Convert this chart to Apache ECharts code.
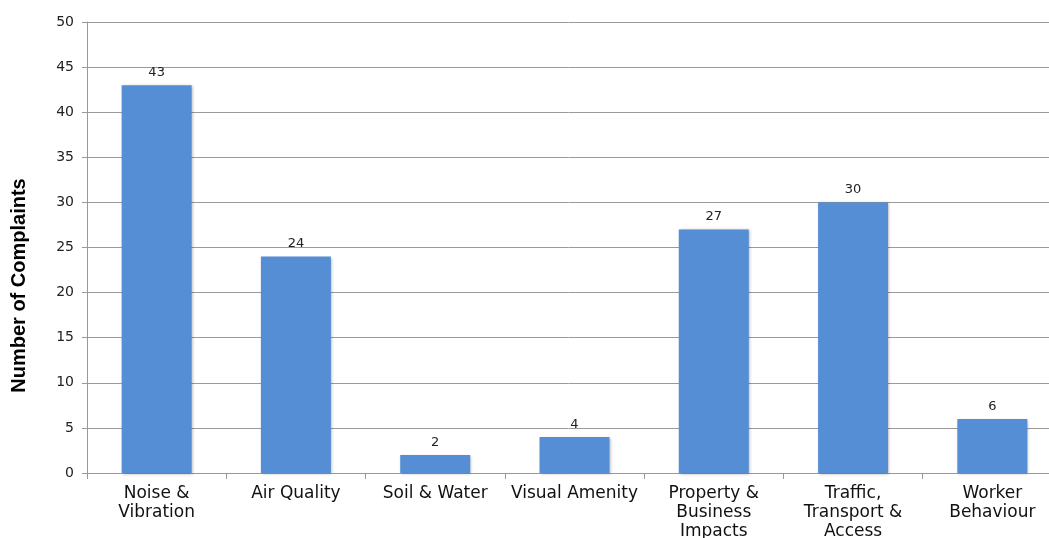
<!DOCTYPE html>
<html>
<head>
<meta charset="utf-8">
<script src="https://cdn.jsdelivr.net/npm/echarts@6/dist/echarts.min.js"></script>
<style>
  html, body { margin: 0; padding: 0; background: #fff; }
  #chart { width: 1049px; height: 538px; }
</style>
</head>
<body>
<div id="chart"></div>
<script>
// categories and counts
var categories = ['Noise &\nVibration', 'Air Quality', 'Soil & Water', 'Visual Amenity',
                  'Property &\nBusiness\nImpacts', 'Traffic,\nTransport &\nAccess', 'Worker\nBehaviour'];
var complaints = [43, 24, 2, 4, 27, 30, 6];

var chart = echarts.init(document.getElementById('chart'));
chart.setOption({
  animation: false,
  backgroundColor: '#ffffff',
  grid: { left: 87, top: 22, bottom: 65, width: 975, outerBoundsMode: 'none', containLabel: false },
  xAxis: {
    type: 'category',
    data: categories,
    axisLine: { lineStyle: { color: '#999999' } },
    axisTick: { show: true, length: 6, lineStyle: { color: '#999999' } },
    axisLabel: {
      interval: 0, margin: 11, color: '#111111',
      fontFamily: 'DejaVu Sans', fontSize: 17, lineHeight: 19, align: 'center'
    }
  },
  yAxis: {
    type: 'value',
    min: 0, max: 50, interval: 5,
    name: 'Number of Complaints',
    nameLocation: 'middle',
    nameGap: 58,
    // title sits a bit below the middle of the axis in the original
    nameTextStyle: {
      fontFamily: 'Liberation Sans', fontWeight: 'bold', fontSize: 20, color: '#000000',
      padding: [0, 76, 0, 0]
    },
    axisLine: { show: true, lineStyle: { color: '#999999' } },
    axisTick: { show: true, length: 5, lineStyle: { color: '#999999' } },
    axisLabel: { margin: 13, color: '#222222', fontFamily: 'DejaVu Sans', fontSize: 14 },
    splitLine: { show: true, lineStyle: { color: '#9a9a9a', width: 1 } }
  },
  series: [{
    type: 'bar',
    data: complaints,
    barWidth: 70,
    itemStyle: {
      color: '#558ed5',
      shadowColor: 'rgba(0,0,0,0.3)',
      shadowBlur: 3,
      shadowOffsetX: 1,
      shadowOffsetY: 1
    },
    label: {
      show: true, position: 'top', distance: 6,
      color: '#222222', fontFamily: 'DejaVu Sans', fontSize: 13
    }
  }]
});
</script>
</body>
</html>
